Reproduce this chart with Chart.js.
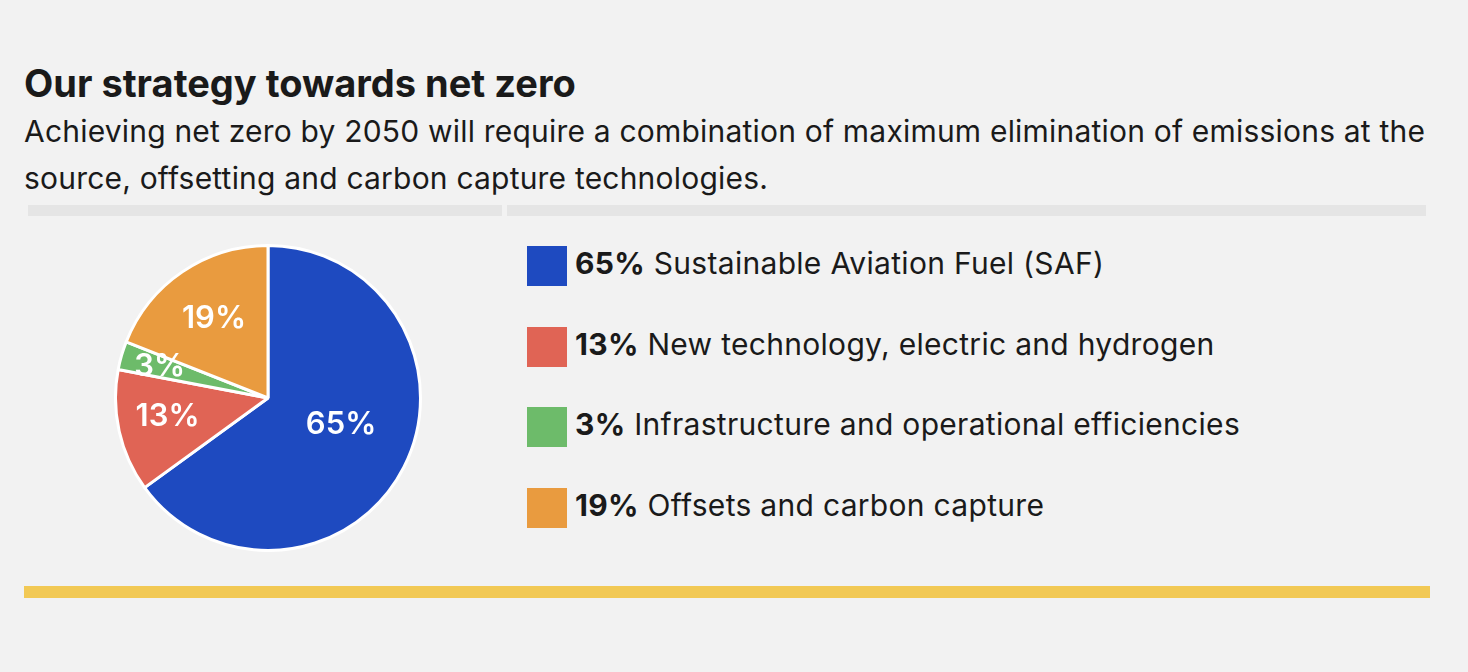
<!DOCTYPE html>
<html>
<head>
<meta charset="utf-8">
<script src="https://cdn.jsdelivr.net/npm/chart.js@4"></script>
<style>
  body { margin: 0; background: #f2f2f2; font-family: Inter, "Noto Sans", sans-serif; color: #1a1a1a; }
  #page { position: relative; width: 1468px; height: 672px; overflow: hidden; }
  h1 { position: absolute; left: 24px; top: 64px; margin: 0; font-size: 38px; line-height: 38px; font-weight: 700; }
  p.sub { position: absolute; left: 24px; top: 108px; width: 1425px; margin: 0; font-size: 30px; line-height: 47px; letter-spacing: 0.2px; }
  .rule { position: absolute; top: 205px; height: 11px; background: #e5e5e5; }
  #chartBox { position: absolute; left: 114px; top: 244px; width: 308px; height: 308px; }
  #legend { position: absolute; left: 527px; top: 246px; }
  .item { display: flex; align-items: center; height: 40px; margin-bottom: 40.7px; font-size: 30px; letter-spacing: 0.3px; }
  .item span.txt { position: relative; top: -3px; white-space: nowrap; }
  .swatch { width: 40px; height: 40px; margin-right: 8px; flex: none; }
  .yellow { position: absolute; left: 24px; top: 586px; width: 1406px; height: 12px; background: #f2c955; }
</style>
</head>
<body>
<div id="page">
  <h1>Our strategy towards net zero</h1>
  <p class="sub">Achieving net zero by 2050 will require a combination of maximum elimination of emissions at the source, offsetting and carbon capture technologies.</p>
  <div class="rule" style="left:28px;width:474px"></div>
  <div class="rule" style="left:507px;width:919px"></div>
  <div id="chartBox"><canvas id="pie" width="308" height="308"></canvas></div>
  <div id="legend"></div>
  <div class="yellow"></div>
</div>
<script>
const categories = [
  'Sustainable Aviation Fuel (SAF)',
  'New technology, electric and hydrogen',
  'Infrastructure and operational efficiencies',
  'Offsets and carbon capture'
];
const shares = [65, 13, 3, 19];
const colors = ['#1e4ac0', '#e06455', '#6dbb6a', '#e99b3f'];

// HTML legend, built from the same arrays
const legend = document.getElementById('legend');
categories.forEach((name, i) => {
  const row = document.createElement('div');
  row.className = 'item';
  row.innerHTML = '<span class="swatch" style="background:' + colors[i] + '"></span>' +
    '<span class="txt"><b>' + shares[i] + '%</b> ' + name + '</span>';
  legend.appendChild(row);
});

// draw the percentage inside each slice
const sliceLabels = {
  id: 'sliceLabels',
  afterDatasetsDraw(chart) {
    const ctx = chart.ctx;
    const meta = chart.getDatasetMeta(0);
    const spread = [0.51, 0.67, 0.74, 0.63];
    const nudge = [-7, 2, 0, 0]; // degrees
    ctx.save();
    ctx.fillStyle = '#ffffff';
    ctx.font = '600 31px Inter, sans-serif';
    ctx.textAlign = 'center';
    ctx.textBaseline = 'middle';
    meta.data.forEach((arc, i) => {
      const p = arc.getProps(['x', 'y', 'startAngle', 'endAngle', 'outerRadius']);
      const mid = (p.startAngle + p.endAngle) / 2 + nudge[i] * Math.PI / 180;
      const r = p.outerRadius * spread[i];
      ctx.fillText(shares[i] + '%', p.x + Math.cos(mid) * r, p.y + Math.sin(mid) * r);
    });
    ctx.restore();
  }
};

new Chart(document.getElementById('pie').getContext('2d'), {
  type: 'pie',
  data: {
    labels: categories,
    datasets: [{
      data: shares,
      backgroundColor: colors,
      borderColor: '#ffffff',
      borderWidth: 3,
      hoverOffset: 0
    }]
  },
  options: {
    responsive: false,
    animation: false,
    layout: { padding: 0 },
    plugins: {
      legend: { display: false },
      tooltip: { enabled: false }
    }
  },
  plugins: [sliceLabels]
});
</script>
</body>
</html>
